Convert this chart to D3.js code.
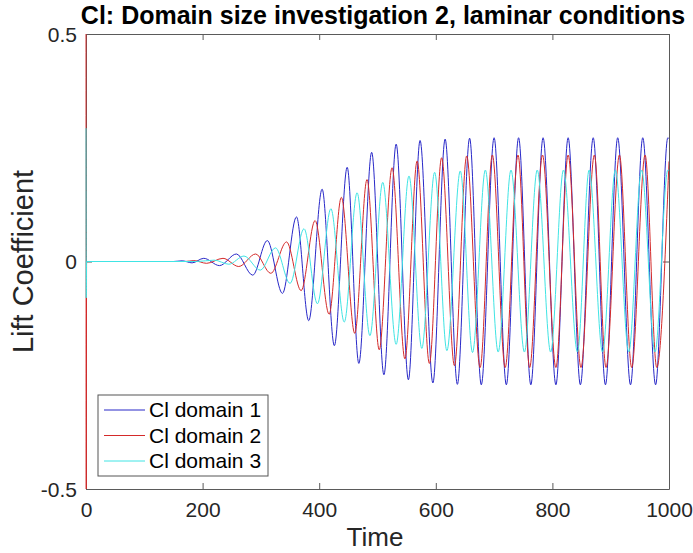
<!DOCTYPE html>
<html>
<head>
<meta charset="utf-8">
<script src="https://cdn.jsdelivr.net/npm/d3@7"></script>
<style>
  html, body { margin: 0; padding: 0; background: #fff; }
  svg { display: block; font-family: "Liberation Sans", Arial, Helvetica, sans-serif; }
</style>
</head>
<body>
<svg id="chart" width="693" height="553"></svg>
<script>
// ---- data (extrema of each signal) ----
const seriesNames = ["Cl domain 1", "Cl domain 2", "Cl domain 3"];

const domain1Time = [0, 150, 165, 182, 202, 229, 258, 286, 311, 337, 361, 382, 405, 426, 448, 468, 490, 511, 532, 553, 573, 595, 616, 637, 658, 678, 700, 721, 742, 763, 784, 806, 827, 848, 870, 891, 912, 934, 955, 977, 998, 1000];
const domain1Cl   = [0, 0, 0.0015, -0.003, 0.007, -0.009, 0.0165, -0.030, 0.046, -0.070, 0.098, -0.130, 0.159, -0.185, 0.207, -0.224, 0.240, -0.249, 0.258, -0.260, 0.266, -0.267, 0.269, -0.270, 0.271, -0.271, 0.272, -0.271, 0.272, -0.271, 0.272, -0.271, 0.272, -0.271, 0.272, -0.271, 0.272, -0.271, 0.272, -0.271, 0.272, 0.270];

const domain2Time = [0, 0.4, 1, 170, 185, 207, 235, 262, 291, 317, 344, 369, 393, 417, 438, 461, 482, 503, 525, 547, 568, 589, 610, 632, 653, 676, 697, 719, 741, 761, 783, 806, 827, 849, 872, 892, 915, 936, 959, 979, 1000];
const domain2Cl   = [0.6, -0.6, 0, 0, 0.002, -0.004, 0.007, -0.011, 0.0165, -0.026, 0.043, -0.064, 0.090, -0.116, 0.141, -0.158, 0.180, -0.194, 0.206, -0.214, 0.221, -0.224, 0.228, -0.229, 0.232, -0.233, 0.234, -0.233, 0.234, -0.233, 0.234, -0.233, 0.234, -0.233, 0.234, -0.233, 0.234, -0.233, 0.234, -0.233, 0.220];

const domain3Time = [0, 0.4, 1, 190, 220, 245, 271, 299, 325, 350, 374, 397, 420, 443, 465, 487, 509, 532, 554, 576, 598, 619, 642, 663, 685, 707, 729, 752, 774, 797, 819, 843, 863, 886, 908, 931, 953, 976, 998, 1000];
const domain3Cl   = [0.293, -0.08, 0, 0, 0.003, -0.006, 0.012, -0.019, 0.030, -0.048, 0.072, -0.093, 0.116, -0.133, 0.151, -0.163, 0.174, -0.182, 0.188, -0.191, 0.196, -0.196, 0.199, -0.200, 0.201, -0.199, 0.201, -0.199, 0.201, -0.199, 0.201, -0.199, 0.201, -0.199, 0.201, -0.199, 0.201, -0.199, 0.201, 0.200];

const xTicks = [0, 200, 400, 600, 800, 1000];
const yTicks = [-0.5, 0, 0.5];
const yTickLabels = ["-0.5", "0", "0.5"];

const titleText = "Cl: Domain size investigation 2, laminar conditions";
const xLabelText = "Time";
const yLabelText = "Lift Coefficient";

// ---- layout ----
const svg = d3.select("#chart");
const plot = { left: 86, right: 669, top: 34, bottom: 489 };
const colors = ["#2828c8", "#d42a2a", "#40e4e4"];

const x = d3.scaleLinear().domain([0, 1000]).range([plot.left, plot.right]);
const y = d3.scaleLinear().domain([-0.5, 0.5]).range([plot.bottom, plot.top]);

svg.append("defs").append("clipPath").attr("id", "clip")
  .append("rect")
  .attr("x", plot.left - 1.5).attr("y", plot.top)
  .attr("width", plot.right - plot.left + 1.5).attr("height", plot.bottom - plot.top);

const series = [
  d3.zip(domain1Time, domain1Cl),
  d3.zip(domain2Time, domain2Cl),
  d3.zip(domain3Time, domain3Cl)
];

// ---- axes (MATLAB-style box with inward ticks) ----
const axisColor = "#5a5a5a";
const tickLen = 6;

const gx = svg.append("g").attr("transform", `translate(0,${plot.bottom})`)
  .call(d3.axisBottom(x).tickValues(xTicks).tickSizeInner(-tickLen).tickSizeOuter(0).tickPadding(13).tickFormat(d3.format("d")));
const gxTop = svg.append("g").attr("transform", `translate(0,${plot.top})`)
  .call(d3.axisTop(x).tickValues(xTicks).tickSizeInner(-tickLen).tickSizeOuter(0).tickFormat(""));
const gy = svg.append("g").attr("transform", `translate(${plot.left},0)`)
  .call(d3.axisLeft(y).tickValues(yTicks).tickSizeInner(-tickLen).tickSizeOuter(0).tickPadding(9).tickFormat((d, i) => yTickLabels[i]));
const gyRight = svg.append("g").attr("transform", `translate(${plot.right},0)`)
  .call(d3.axisRight(y).tickValues(yTicks).tickSizeInner(-tickLen).tickSizeOuter(0).tickFormat(""));

[gx, gxTop, gy, gyRight].forEach(g => {
  g.select(".domain").attr("stroke", axisColor).attr("stroke-width", 1);
  g.selectAll(".tick line").attr("stroke", axisColor).attr("stroke-width", 1);
  g.selectAll(".tick text")
    .attr("fill", "#262626")
    .style("font-size", "21px")
    .style("font-family", "'Liberation Sans', Arial, sans-serif");
});
gy.selectAll(".tick text").attr("dy", "0.35em");

// ---- data lines (drawn over the box, as in the reference) ----
const line = d3.line()
  .x(d => x(d[0]))
  .y(d => y(d[1]))
  .curve(d3.curveMonotoneX);

const lines = svg.append("g").attr("clip-path", "url(#clip)");
series.forEach((s, i) => {
  lines.append("path")
    .datum(s)
    .attr("fill", "none")
    .attr("stroke", colors[i])
    .attr("stroke-width", 1)
    .attr("d", line);
});

// ---- labels ----
svg.append("text")
  .attr("x", 383)
  .attr("y", 24)
  .attr("text-anchor", "middle")
  .attr("fill", "#000")
  .style("font-size", "25px")
  .style("font-weight", "bold")
  .text(titleText);

svg.append("text")
  .attr("x", 375)
  .attr("y", 546)
  .attr("text-anchor", "middle")
  .attr("fill", "#262626")
  .style("font-size", "26px")
  .text(xLabelText);

svg.append("text")
  .attr("transform", `translate(33,${(plot.top + plot.bottom) / 2}) rotate(-90)`)
  .attr("text-anchor", "middle")
  .attr("fill", "#262626")
  .style("font-size", "29px")
  .text(yLabelText);

// ---- legend ----
const legend = svg.append("g");
legend.append("rect")
  .attr("x", 98).attr("y", 395).attr("width", 170).attr("height", 81)
  .attr("fill", "#fff").attr("stroke", "#555").attr("stroke-width", 1);
seriesNames.forEach((name, i) => {
  const yy = 410 + i * 25.5;
  legend.append("line")
    .attr("x1", 104).attr("x2", 145).attr("y1", yy).attr("y2", yy)
    .attr("stroke", colors[i]).attr("stroke-width", 1);
  legend.append("text")
    .attr("x", 149).attr("y", yy).attr("dy", "0.35em")
    .attr("fill", "#000")
    .style("font-size", "21px")
    .text(name);
});
</script>
</body>
</html>
